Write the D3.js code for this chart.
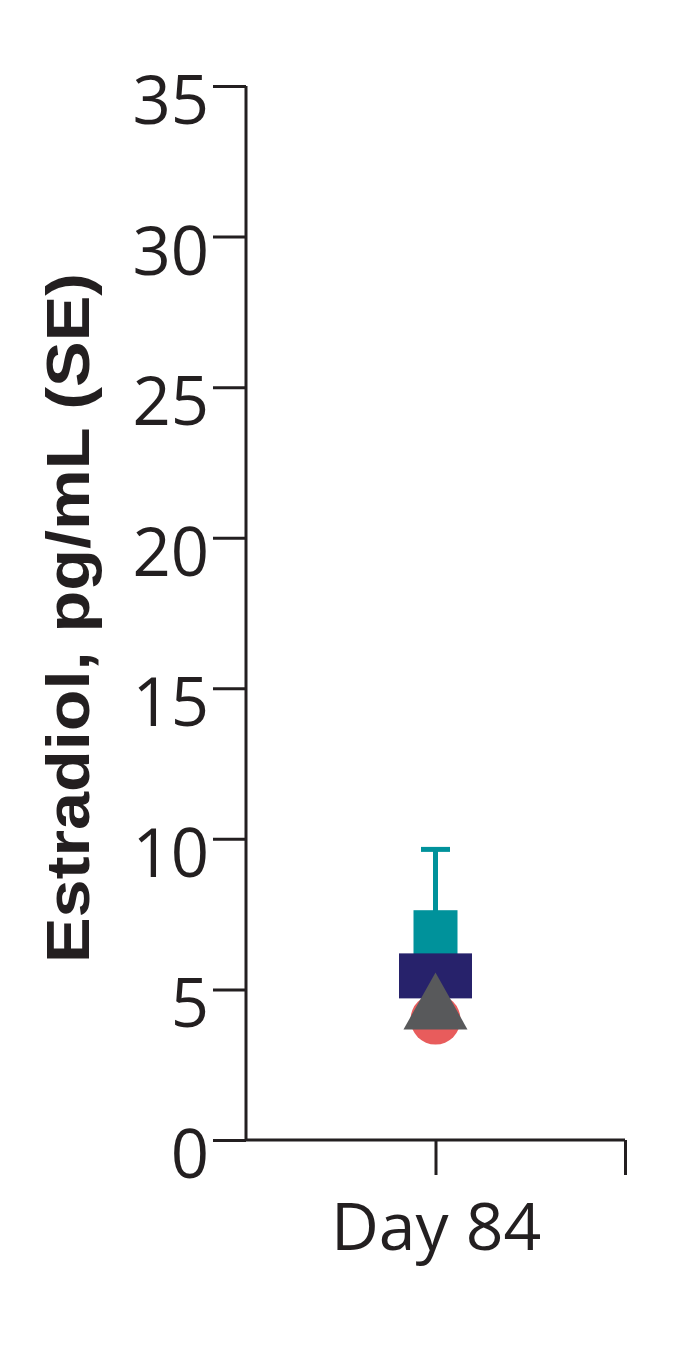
<!DOCTYPE html>
<html><head><meta charset="utf-8">
<script src="https://cdn.jsdelivr.net/npm/d3@7"></script>
<style>html,body{margin:0;padding:0;background:#fff;}</style>
</head><body>
<svg id="c" width="696" height="1355"></svg>
<script>
const categories = ["Day 84"];
const yTicks = [0, 5, 10, 15, 20, 25, 30, 35];
const seriesNames = ["Teal", "Navy", "Red", "Gray"];
const seriesValues = [6.9, 5.45, 4.0, 4.3];
const seriesErrorUpper = [9.65, null, null, null];
const seriesColors = ["#00929b", "#27226b", "#e85c5c", "#58595b"];
const seriesShapes = ["square", "rect", "circle", "triangle"];

const svg = d3.select("#c");
const ink = "#231f20";
const x0 = 246, x1 = 625, yTop = 86, yBot = 1140;

const y = d3.scaleLinear().domain([0, 35]).range([yBot, yTop]);
const x = d3.scaleLinear().domain([0, 2]).range([x0, x1]);

// Y axis
const yAxis = svg.append("g").attr("transform", `translate(${x0},0)`)
  .call(d3.axisLeft(y).tickValues(yTicks).tickSize(33).tickPadding(4).tickSizeOuter(0));
yAxis.select(".domain").attr("stroke", ink).attr("stroke-width", 3)
  .attr("d", `M0,${yTop}V${yBot}`);
yAxis.selectAll(".tick line").attr("stroke", ink).attr("stroke-width", 3);
yAxis.selectAll(".tick text").attr("fill", ink)
  .style("font-family", "'Open Sans', sans-serif").style("font-size", "67px")
  .attr("dy", "0.56em");

// X axis
const xAxis = svg.append("g").attr("transform", `translate(0,${yBot})`)
  .call(d3.axisBottom(x).tickValues([1, 2]).tickFormat(d => d === 1 ? categories[0] : "")
    .tickSize(35).tickPadding(28).tickSizeOuter(0));
xAxis.select(".domain").attr("stroke", ink).attr("stroke-width", 3)
  .attr("d", `M${x0},0H${x1}`);
xAxis.selectAll(".tick line").attr("stroke", ink).attr("stroke-width", 3);
xAxis.selectAll(".tick text").attr("fill", ink)
  .style("font-family", "'Open Sans', sans-serif").style("font-size", "66px");

// Y label
svg.append("text")
  .attr("transform", `translate(89,618) rotate(-90)`)
  .attr("text-anchor", "middle")
  .attr("fill", ink)
  .attr("textLength", 690)
  .attr("lengthAdjust", "spacingAndGlyphs")
  .style("font-family", "'Liberation Sans', Arial, sans-serif")
  .style("font-weight", "bold").style("font-size", "61px")
  .text("Estradiol, pg/mL (SE)");

const cx = x(1);
const g = svg.append("g");
// error bar (teal)
seriesValues.forEach((v, i) => {
  const eu = seriesErrorUpper[i];
  if (eu == null) return;
  g.append("line").attr("x1", cx).attr("x2", cx).attr("y1", y(v)).attr("y2", y(eu))
    .attr("stroke", seriesColors[i]).attr("stroke-width", 5);
  g.append("line").attr("x1", cx - 14.5).attr("x2", cx + 14.5).attr("y1", y(eu)).attr("y2", y(eu))
    .attr("stroke", seriesColors[i]).attr("stroke-width", 5);
});
// markers in draw order
seriesValues.forEach((v, i) => {
  const cy = y(v), col = seriesColors[i], s = seriesShapes[i];
  if (s === "square") {
    g.append("rect").attr("x", cx - 22).attr("y", cy - 22).attr("width", 44).attr("height", 44).attr("fill", col);
  } else if (s === "rect") {
    g.append("rect").attr("x", cx - 36.5).attr("y", cy - 22.5).attr("width", 73).attr("height", 45).attr("fill", col);
  } else if (s === "circle") {
    g.append("circle").attr("cx", cx).attr("cy", cy).attr("r", 25).attr("fill", col);
  } else if (s === "triangle") {
    const h = 57, w = 64, top = cy - h * 2 / 3;
    g.append("path").attr("d", `M${cx},${top}L${cx + w / 2},${top + h}L${cx - w / 2},${top + h}Z`).attr("fill", col);
  }
});
</script>
</body></html>
